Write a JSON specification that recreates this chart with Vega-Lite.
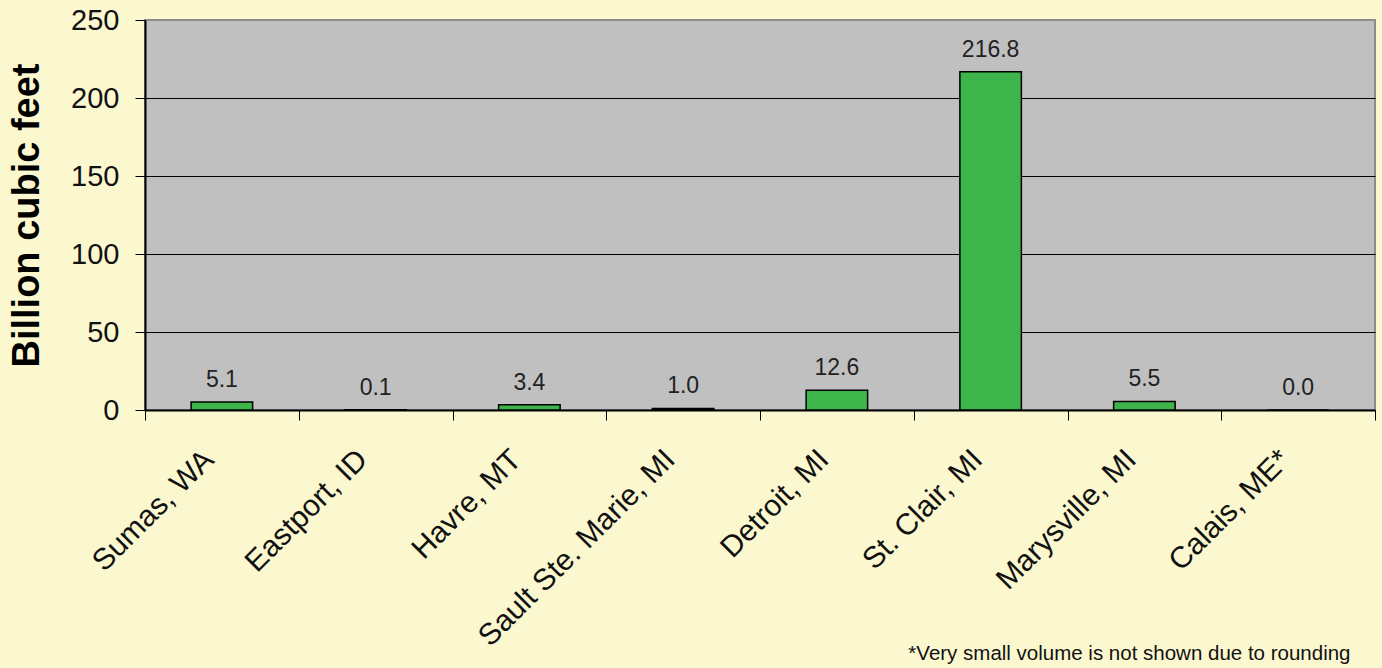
{
  "$schema": "https://vega.github.io/schema/vega-lite/v6.json",
  "autosize": "none",
  "width": 1230,
  "height": 390,
  "padding": {"left": 145, "top": 20, "right": 7, "bottom": 258},
  "background": "#FBF8D0",
  "config": {
    "font": "Liberation Sans",
    "view": {"fill": "#C0C0C0", "stroke": "#8C8C8C", "strokeWidth": 2}
  },
  "title": {
    "text": "*Very small volume is not shown due to rounding",
    "orient": "bottom",
    "anchor": "end",
    "fontSize": 20.5,
    "fontWeight": "normal",
    "color": "#111111",
    "dx": -25,
    "offset": -7
  },
  "data": {
    "values": [
      {"port": "Sumas, WA", "volume": 5.1},
      {"port": "Eastport, ID", "volume": 0.1},
      {"port": "Havre, MT", "volume": 3.4},
      {"port": "Sault Ste. Marie, MI", "volume": 1.0},
      {"port": "Detroit, MI", "volume": 12.6},
      {"port": "St. Clair, MI", "volume": 216.8},
      {"port": "Marysville, MI", "volume": 5.5},
      {"port": "Calais, ME*", "volume": 0.0}
    ]
  },
  "encoding": {
    "x": {
      "field": "port",
      "type": "nominal",
      "sort": null,
      "scale": {"paddingInner": 0, "paddingOuter": 0},
      "axis": {
        "title": null,
        "labelAngle": -45,
        "labelFontSize": 30,
        "labelColor": "#111111",
        "labelPadding": 24,
        "labelOffset": -24,
        "tickBand": "extent",
        "tickColor": "#000000",
        "tickSize": 10,
        "domainColor": "#000000",
        "domainWidth": 2,
        "labelLimit": 500
      }
    },
    "y": {
      "field": "volume",
      "type": "quantitative",
      "scale": {"domain": [0, 250], "nice": false},
      "axis": {
        "values": [0, 50, 100, 150, 200, 250],
        "title": "Billion cubic feet",
        "titleFontSize": 38,
        "titleFontWeight": "bold",
        "titleColor": "#000000",
        "titlePadding": 24,
        "labelFontSize": 29,
        "labelColor": "#111111",
        "labelPadding": 16,
        "tickColor": "#000000",
        "tickSize": 10,
        "domainColor": "#000000",
        "domainWidth": 2,
        "grid": true,
        "gridColor": {"condition": {"test": "datum.value === 250", "value": "#8C8C8C"}, "value": "#000000"},
        "gridOpacity": 1,
        "gridWidth": 1.2
      }
    }
  },
  "layer": [
    {
      "mark": {"type": "bar", "width": {"band": 0.4}, "color": "#3DB54A", "stroke": "#000000", "strokeWidth": 1.5}
    },
    {
      "mark": {"type": "text", "baseline": "alphabetic", "dy": -15, "fontSize": 23, "color": "#222222"},
      "encoding": {"text": {"field": "volume", "type": "quantitative", "format": ".1f"}}
    }
  ]
}
